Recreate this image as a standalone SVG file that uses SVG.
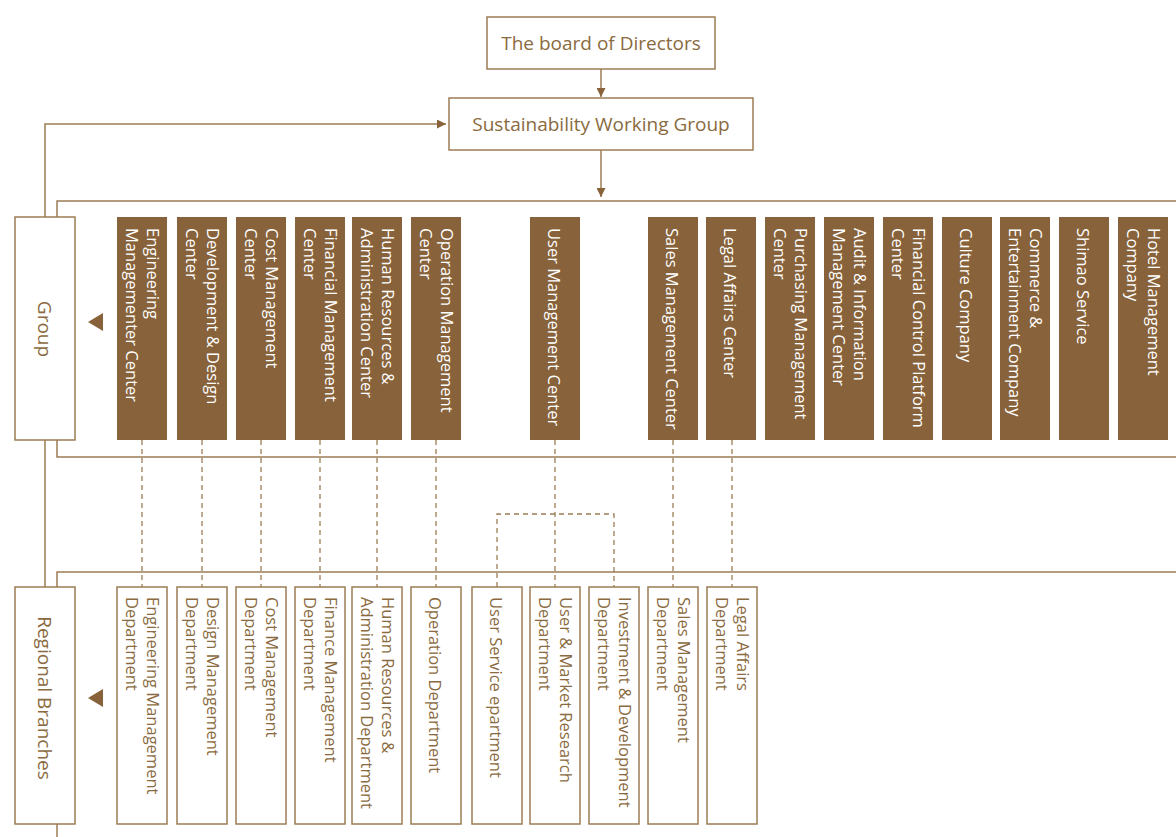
<svg xmlns="http://www.w3.org/2000/svg" width="1176" height="837" viewBox="0 0 1176 837">
<defs>
<style>
.ln{fill:none;stroke:#9C7D55;stroke-width:1.5}
.dash{fill:none;stroke:#9C7D55;stroke-width:1.3;stroke-dasharray:5 4}
.obox{fill:#fff;stroke:#9C7D55;stroke-width:1.5}
.fbox{fill:#87623A}
.ht{font-family:"Open Sans","Liberation Sans",sans-serif;font-size:19px;fill:#8A6A40;text-anchor:middle}
.vt{font-family:"Open Sans","Liberation Sans",sans-serif;font-size:16.5px;fill:#fff}
.vd{font-family:"Open Sans","Liberation Sans",sans-serif;font-size:16.5px;fill:#8A6A40}
.lbl{font-family:"Open Sans","Liberation Sans",sans-serif;font-size:19px;fill:#8A6A40;text-anchor:middle}
.tri{fill:#87623A}
</style>
<marker id="ah" viewBox="0 0 10 10" refX="10" refY="5" markerWidth="9" markerHeight="9" markerUnits="userSpaceOnUse" orient="auto">
<path d="M0,0 L10,5 L0,10 z" fill="#87623A"/>
</marker>
</defs>
<rect width="1176" height="837" fill="#fff"/>

<g id="connectors">
<path class="ln" d="M601,69 V97" marker-end="url(#ah)"/>
<path class="ln" d="M601,150 V197" marker-end="url(#ah)"/>
<path class="ln" d="M45,587 V124 H446" marker-end="url(#ah)"/>
<path class="ln" d="M57,217 V201 H1176"/>
<path class="ln" d="M57,440 V457 H1176"/>
<path class="ln" d="M57,587 V572 H1176"/>
<path class="ln" d="M57,824 V837"/>
<path class="dash" d="M142,440 V587 M202,440 V587 M261,440 V587 M320,440 V587 M377,440 V587 M436,440 V587 M555,440 V587 M673,440 V587 M732,440 V587"/>
<path class="dash" d="M497,587 V514 H614 V587"/>
</g>

<g id="board"><rect class="obox" x="487" y="17" width="228" height="52"/><text class="ht" x="601" y="50">The board of Directors</text></g>
<g id="swg"><rect class="obox" x="449" y="98" width="304" height="52"/><text class="ht" x="601" y="131">Sustainability Working Group</text></g>

<g id="group"><rect class="obox" x="15" y="217" width="60" height="223"/><text class="lbl" transform="translate(45,329) rotate(90)" y="7">Group</text><polygon class="tri" points="88,322 103,313 103,331"/></g>
<g id="regional"><rect class="obox" x="15" y="587" width="60" height="237"/><text class="lbl" transform="translate(45,698) rotate(90)" y="7">Regional Branches</text><polygon class="tri" points="88,698 103,689 103,707"/></g>

<g id="g1"><rect class="fbox" x="117" y="217" width="50" height="223"/><text class="vt" transform="translate(142,228) rotate(90)" y="-5">Engineering<tspan x="0" dy="21">Managementer Center</tspan></text></g>
<g id="g2"><rect class="fbox" x="177" y="217" width="50" height="223"/><text class="vt" transform="translate(202,228) rotate(90)" y="-5">Development &amp; Design<tspan x="0" dy="21">Center</tspan></text></g>
<g id="g3"><rect class="fbox" x="236" y="217" width="50" height="223"/><text class="vt" transform="translate(261,228) rotate(90)" y="-5">Cost Management<tspan x="0" dy="21">Center</tspan></text></g>
<g id="g4"><rect class="fbox" x="295" y="217" width="50" height="223"/><text class="vt" transform="translate(320,228) rotate(90)" y="-5">Financial Management<tspan x="0" dy="21">Center</tspan></text></g>
<g id="g5"><rect class="fbox" x="352" y="217" width="50" height="223"/><text class="vt" transform="translate(377,228) rotate(90)" y="-5">Human Resources &amp;<tspan x="0" dy="21">Administration Center</tspan></text></g>
<g id="g6"><rect class="fbox" x="411" y="217" width="50" height="223"/><text class="vt" transform="translate(436,228) rotate(90)" y="-5">Operation Management<tspan x="0" dy="21">Center</tspan></text></g>
<g id="g7"><rect class="fbox" x="530" y="217" width="50" height="223"/><text class="vt" transform="translate(555,228) rotate(90)" y="7">User Management Center</text></g>
<g id="g8"><rect class="fbox" x="648" y="217" width="50" height="223"/><text class="vt" transform="translate(673,228) rotate(90)" y="7">Sales Management Center</text></g>
<g id="g9"><rect class="fbox" x="706" y="217" width="50" height="223"/><text class="vt" transform="translate(731,228) rotate(90)" y="7">Legal Affairs Center</text></g>
<g id="g10"><rect class="fbox" x="765" y="217" width="50" height="223"/><text class="vt" transform="translate(790,228) rotate(90)" y="-5">Purchasing Management<tspan x="0" dy="21">Center</tspan></text></g>
<g id="g11"><rect class="fbox" x="824" y="217" width="50" height="223"/><text class="vt" transform="translate(849,228) rotate(90)" y="-5">Audit &amp; Information<tspan x="0" dy="21">Management Center</tspan></text></g>
<g id="g12"><rect class="fbox" x="883" y="217" width="50" height="223"/><text class="vt" transform="translate(908,228) rotate(90)" y="-5">Financial Control Platform<tspan x="0" dy="21">Center</tspan></text></g>
<g id="g13"><rect class="fbox" x="942" y="217" width="50" height="223"/><text class="vt" transform="translate(967,228) rotate(90)" y="7">Culture Company</text></g>
<g id="g14"><rect class="fbox" x="1000" y="217" width="50" height="223"/><text class="vt" transform="translate(1025,228) rotate(90)" y="-5">Commerce &amp;<tspan x="0" dy="21">Entertainment Company</tspan></text></g>
<g id="g15"><rect class="fbox" x="1059" y="217" width="50" height="223"/><text class="vt" transform="translate(1084,228) rotate(90)" y="7">Shimao Service</text></g>
<g id="g16"><rect class="fbox" x="1118" y="217" width="50" height="223"/><text class="vt" transform="translate(1143,228) rotate(90)" y="-5">Hotel Management<tspan x="0" dy="21">Company</tspan></text></g>

<g id="r1"><rect class="obox" x="117" y="587" width="50" height="237"/><text class="vd" transform="translate(142,597) rotate(90)" y="-5">Engineering Management<tspan x="0" dy="21">Department</tspan></text></g>
<g id="r2"><rect class="obox" x="177" y="587" width="50" height="237"/><text class="vd" transform="translate(202,597) rotate(90)" y="-5">Design Management<tspan x="0" dy="21">Department</tspan></text></g>
<g id="r3"><rect class="obox" x="236" y="587" width="50" height="237"/><text class="vd" transform="translate(261,597) rotate(90)" y="-5">Cost Management<tspan x="0" dy="21">Department</tspan></text></g>
<g id="r4"><rect class="obox" x="295" y="587" width="50" height="237"/><text class="vd" transform="translate(320,597) rotate(90)" y="-5">Finance Management<tspan x="0" dy="21">Department</tspan></text></g>
<g id="r5"><rect class="obox" x="352" y="587" width="50" height="237"/><text class="vd" transform="translate(377,597) rotate(90)" y="-5">Human Resources &amp;<tspan x="0" dy="21">Administration Department</tspan></text></g>
<g id="r6"><rect class="obox" x="411" y="587" width="50" height="237"/><text class="vd" transform="translate(436,597) rotate(90)" y="7">Operation Department</text></g>
<g id="r7"><rect class="obox" x="472" y="587" width="50" height="237"/><text class="vd" transform="translate(497,597) rotate(90)" y="7">User Service epartment</text></g>
<g id="r8"><rect class="obox" x="530" y="587" width="50" height="237"/><text class="vd" transform="translate(555,597) rotate(90)" y="-5">User &amp; Market Research<tspan x="0" dy="21">Department</tspan></text></g>
<g id="r9"><rect class="obox" x="589" y="587" width="50" height="237"/><text class="vd" transform="translate(614,597) rotate(90)" y="-5">Investment &amp; Development<tspan x="0" dy="21">Department</tspan></text></g>
<g id="r10"><rect class="obox" x="648" y="587" width="50" height="237"/><text class="vd" transform="translate(673,597) rotate(90)" y="-5">Sales Management<tspan x="0" dy="21">Department</tspan></text></g>
<g id="r11"><rect class="obox" x="707" y="587" width="50" height="237"/><text class="vd" transform="translate(732,597) rotate(90)" y="-5">Legal Affairs<tspan x="0" dy="21">Department</tspan></text></g>
</svg>
